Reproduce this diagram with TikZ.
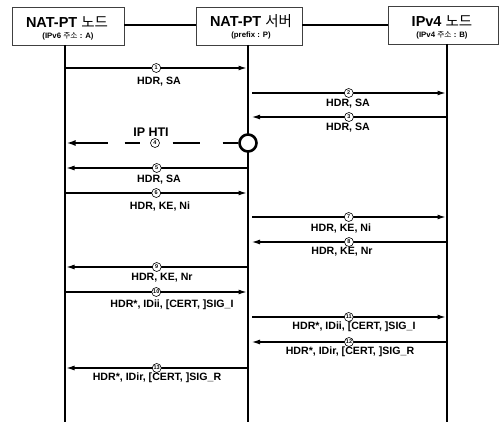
\documentclass[tikz,border=0pt]{standalone}
\usepackage{fontspec}
\setmainfont{Liberation Sans}
\newfontfamily\kr{Noto Sans CJK KR}
\usetikzlibrary{arrows.meta}
\begin{document}
\begin{tikzpicture}[x=1pt,y=-1pt,
  box/.style={draw=black!75,line width=0.6pt,inner sep=0pt},
  ttl/.style={font=\fontsize{14.5}{15}\selectfont\bfseries,inner sep=0pt},
  sub/.style={font=\fontsize{7.8}{8}\selectfont\bfseries,inner sep=0pt},
  life/.style={line width=2.6pt},
  link/.style={line width=1.8pt},
  msg/.style={line width=1.1pt,-{Latex[length=8pt,width=5pt]}},
  num/.style={circle,draw,line width=0.6pt,fill=white,inner sep=0pt,minimum size=9pt,font=\fontsize{5.5}{6}\selectfont\bfseries},
  lbl/.style={font=\fontsize{10.6}{11}\selectfont\bfseries,inner sep=0pt}
]
\useasboundingbox (0,0) rectangle (499,422);
% boxes
\node[box,minimum width=112pt,minimum height=38pt] (bA) at (68,26) {};
\node[box,minimum width=106pt,minimum height=38pt] (bP) at (249,26) {};
\node[box,minimum width=110pt,minimum height=38pt] (bB) at (443.5,25) {};
\node[ttl] (tA) at (67,22) {NAT-PT {\kr\mdseries 노드}};
\node[sub] (sA) at (68,36) {(IPv6 {\kr\mdseries 주소} : A)};
\node[ttl] (tP) at (251,21) {NAT-PT {\kr\mdseries 서버}};
\node[sub] (sP) at (251,35) {(prefix : P)};
\node[ttl] (tB) at (442,21) {IPv4 {\kr\mdseries 노드}};
\node[sub] (sB) at (442,35) {(IPv4 {\kr\mdseries 주소} : B)};
% links between boxes
\draw[link] (bA.east |- 0,25) -- (bP.west |- 0,25);
\draw[link,line width=1.3pt] (bP.east |- 0,25) -- (bB.west |- 0,25);
% lifelines
\coordinate (LA0) at (65,45); \coordinate (LA1) at (65,422);
\coordinate (LP0) at (248,45); \coordinate (LP1) at (248,422);
\coordinate (LB0) at (447,44); \coordinate (LB1) at (447,422);
\draw[life] (LA0) -- (LA1);
\draw[life] (LP0) -- (LP1);
\draw[life] (LB0) -- (LB1);
% message 1
\coordinate (a1) at (66,68); \coordinate (b1) at (246.5,68);
\draw[msg] (a1) -- node[num] (n1) {1} (b1);
\node[lbl] (l1) at (159,82) {HDR, SA};
% message 2
\coordinate (a2) at (252,93); \coordinate (b2) at (445.5,93);
\draw[msg] (a2) -- node[num] (n2) {2} (b2);
\node[lbl] (l2) at (348,104) {HDR, SA};
% message 3
\coordinate (a3) at (446,117); \coordinate (b3) at (252,117);
\draw[msg] (a3) -- node[num] (n3) {3} (b3);
\node[lbl] (l3) at (348,128) {HDR, SA};
% message 4 (dashed)
\node[circle,draw,line width=2.6pt,fill=white,minimum size=17pt,inner sep=0pt] (c4) at (248,143) {};
\coordinate (b4) at (66.5,143);
\draw[line width=1.8pt,dash pattern=on 33pt off 17pt on 15pt off 33pt on 27pt off 23pt on 25pt,{Latex[length=9pt,width=6pt]}-] (b4) -- (c4.west);
\node[num] (n4) at (155,143) {4};
\node[font=\fontsize{12.5}{13}\selectfont\bfseries,inner sep=0pt] (ip) at (151,132) {IP HTI};
% message 5
\coordinate (a5) at (247,168); \coordinate (b5) at (66.5,168);
\draw[msg] (a5) -- node[num] (n5) {5} (b5);
\node[lbl] (l5) at (159,180) {HDR, SA};
% message 6
\coordinate (a6) at (66,193); \coordinate (b6) at (246.5,193);
\draw[msg] (a6) -- node[num] (n6) {6} (b6);
\node[lbl] (l6) at (160,206) {HDR, KE, Ni};
% message 7
\coordinate (a7) at (252,217); \coordinate (b7) at (445.5,217);
\draw[msg] (a7) -- node[num] (n7) {7} (b7);
\node[lbl] (l7) at (341,228) {HDR, KE, Ni};
% message 8
\coordinate (a8) at (446,242); \coordinate (b8) at (252,242);
\draw[msg] (a8) -- node[num] (n8) {8} (b8);
\node[lbl] (l8) at (342,252) {HDR, KE, Nr};
% message 9
\coordinate (a9) at (247,267); \coordinate (b9) at (66.5,267);
\draw[msg] (a9) -- node[num] (n9) {9} (b9);
\node[lbl] (l9) at (162,278) {HDR, KE, Nr};
% message 10
\coordinate (a10) at (66,292); \coordinate (b10) at (246.5,292);
\draw[msg] (a10) -- node[num] (n10) {10} (b10);
\node[lbl] (l10) at (172,305) {HDR*, IDii, [CERT, ]SIG\_I};
% message 11
\coordinate (a11) at (252,317); \coordinate (b11) at (445.5,317);
\draw[msg] (a11) -- node[num] (n11) {11} (b11);
\node[lbl] (l11) at (354,327) {HDR*, IDii, [CERT, ]SIG\_I};
% message 12
\coordinate (a12) at (446,342); \coordinate (b12) at (252,342);
\draw[msg] (a12) -- node[num] (n12) {12} (b12);
\node[lbl] (l12) at (350,352) {HDR*, IDir, [CERT, ]SIG\_R};
% message 13
\coordinate (a13) at (247,368); \coordinate (b13) at (66.5,368);
\draw[msg] (a13) -- node[num] (n13) {13} (b13);
\node[lbl] (l13) at (157,378) {HDR*, IDir, [CERT, ]SIG\_R};
\end{tikzpicture}
\end{document}
